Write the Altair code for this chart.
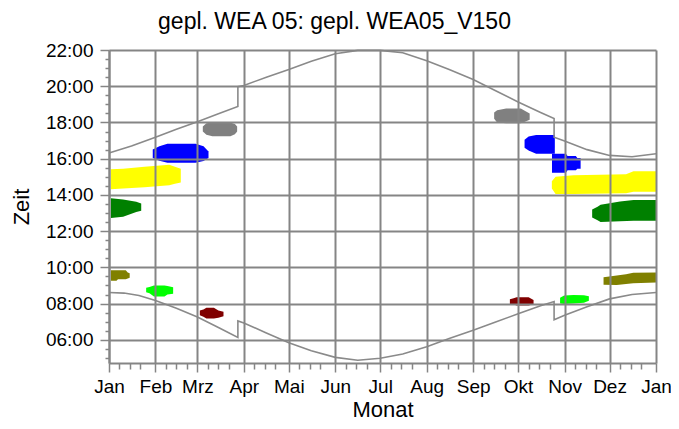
import altair as alt
import pandas as pd

FONT = "Liberation Sans"
GRID = "#858585"
SUNLINE = "#8a8a8a"

# --- axis categories -------------------------------------------------------
month_names = ["Jan", "Feb", "Mrz", "Apr", "Mai", "Jun", "Jul", "Aug", "Sep", "Okt", "Nov", "Dez", "Jan"]
month_starts = [0, 31, 59, 90, 120, 151, 181, 212, 243, 273, 304, 334, 365]
hour_labels = [6, 8, 10, 12, 14, 16, 18, 20, 22]

# --- astronomical limits (day of year, hour of day) ------------------------
sunrise_day = [0, 10, 20, 31, 45, 59, 73, 86, 86, 90, 105, 120, 135, 151, 166, 181, 196,
               212, 227, 243, 258, 273, 288, 297, 297, 304, 319, 334, 349, 365]
sunrise_time = [8.61, 8.58, 8.45, 8.17, 7.74, 7.26, 6.68, 6.13, 7.04, 6.93, 6.38, 5.84, 5.40,
                5.03, 4.87, 4.98, 5.22, 5.62, 6.07, 6.53, 6.98, 7.44, 7.88, 8.11, 7.11, 7.35,
                7.82, 8.26, 8.50, 8.61]
sunset_day = [0, 15, 31, 45, 59, 73, 86, 86, 90, 105, 120, 135, 151, 166, 181, 196,
              212, 227, 243, 258, 273, 288, 297, 297, 304, 319, 334, 349, 365]
sunset_time = [16.31, 16.70, 17.19, 17.62, 18.04, 18.48, 18.88, 19.97, 20.04, 20.50, 20.92,
               21.38, 21.79, 21.98, 21.98, 21.85, 21.41, 20.92, 20.37, 19.75, 19.13, 18.55,
               18.22, 17.19, 16.97, 16.50, 16.18, 16.11, 16.27]

# --- shadow periods per receptor (day, start hour, end hour) ---------------
receptors = ["IO A", "IO B", "IO C", "IO D", "IO E", "IO F", "IO G"]
receptor_colors = ["#808080", "#0000ff", "#ffff00", "#008000", "#808000", "#00ff00", "#800000"]

grey_mar_day = [62.6, 65, 69, 81, 84, 85.5]
grey_mar_lo = [17.50, 17.32, 17.24, 17.24, 17.35, 17.50]
grey_mar_hi = [17.78, 17.95, 18.00, 18.00, 17.92, 17.78]
grey_oct_day = [257, 259, 265, 274.8, 278, 280.7]
grey_oct_lo = [18.20, 18.00, 17.95, 17.95, 18.05, 18.15]
grey_oct_hi = [18.55, 18.68, 18.77, 18.77, 18.62, 18.50]

blue_feb_day = [29.2, 33.6, 39, 57.7, 63.1, 66.4]
blue_feb_lo = [16.04, 15.88, 15.77, 15.77, 15.87, 16.04]
blue_feb_hi = [16.51, 16.68, 16.82, 16.82, 16.69, 16.40]
blue_oct_day = [277.3, 280, 285, 297.5]
blue_oct_lo = [16.60, 16.45, 16.27, 16.27]
blue_oct_hi = [17.05, 17.22, 17.31, 17.31]
blue_nov_day = [295.6, 304.9, 306, 311.5, 312.5, 314.7]
blue_nov_lo = [15.23, 15.23, 15.36, 15.36, 15.45, 15.45]
blue_nov_hi = [16.27, 16.27, 16.15, 16.15, 16.04, 16.04]

yellow_jan_day = [1.3, 9.4, 23.7, 40.2, 44, 47.9]
yellow_jan_lo = [14.31, 14.35, 14.42, 14.54, 14.62, 14.69]
yellow_jan_hi = [15.42, 15.45, 15.55, 15.67, 15.55, 15.45]
yellow_nov_day = [295.5, 298, 310, 345, 350, 365]
yellow_nov_lo = [14.35, 14.05, 14.05, 14.09, 14.18, 14.18]
yellow_nov_hi = [14.75, 15.00, 15.09, 15.14, 15.31, 15.31]

green_jan_day = [1.3, 9.4, 18.2, 21.5]
green_jan_lo = [12.72, 12.80, 13.05, 13.12]
green_jan_hi = [13.81, 13.74, 13.62, 13.52]
green_dec_day = [322.4, 326, 328, 341, 350, 365]
green_dec_lo = [12.75, 12.60, 12.50, 12.54, 12.58, 12.58]
green_dec_hi = [13.20, 13.35, 13.45, 13.63, 13.72, 13.72]

olive_jan_day = [1.3, 5, 6, 11.2, 12.5, 13.8]
olive_jan_lo = [9.26, 9.26, 9.35, 9.35, 9.39, 9.42]
olive_jan_hi = [9.84, 9.84, 9.84, 9.84, 9.72, 9.68]
olive_dec_day = [330, 338.8, 345, 349.8, 365]
olive_dec_lo = [9.04, 9.02, 9.08, 9.12, 9.17]
olive_dec_hi = [9.45, 9.55, 9.62, 9.70, 9.72]

lime_feb_day = [24.8, 27, 30, 37, 39, 42.8]
lime_feb_lo = [8.62, 8.57, 8.39, 8.39, 8.50, 8.55]
lime_feb_hi = [8.88, 8.92, 9.00, 9.00, 8.97, 8.90]
lime_nov_day = [301, 303.7, 310, 316.9, 320.2]
lime_nov_lo = [8.00, 7.98, 8.00, 8.05, 8.15]
lime_nov_hi = [8.32, 8.45, 8.48, 8.46, 8.40]

maroon_mar_day = [60.6, 63, 65, 70, 73, 76.4]
maroon_mar_lo = [7.35, 7.28, 7.17, 7.17, 7.22, 7.30]
maroon_mar_hi = [7.62, 7.68, 7.77, 7.77, 7.62, 7.55]
maroon_oct_day = [267.5, 270, 272, 280, 283.3]
maroon_oct_lo = [7.98, 7.95, 7.90, 7.90, 7.97]
maroon_oct_hi = [8.24, 8.30, 8.35, 8.35, 8.20]

segments = [
    ("IO A", "a1", grey_mar_day, grey_mar_lo, grey_mar_hi),
    ("IO A", "a2", grey_oct_day, grey_oct_lo, grey_oct_hi),
    ("IO B", "b1", blue_feb_day, blue_feb_lo, blue_feb_hi),
    ("IO B", "b2", blue_oct_day, blue_oct_lo, blue_oct_hi),
    ("IO B", "b3", blue_nov_day, blue_nov_lo, blue_nov_hi),
    ("IO C", "c1", yellow_jan_day, yellow_jan_lo, yellow_jan_hi),
    ("IO C", "c2", yellow_nov_day, yellow_nov_lo, yellow_nov_hi),
    ("IO D", "d1", green_jan_day, green_jan_lo, green_jan_hi),
    ("IO D", "d2", green_dec_day, green_dec_lo, green_dec_hi),
    ("IO E", "e1", olive_jan_day, olive_jan_lo, olive_jan_hi),
    ("IO E", "e2", olive_dec_day, olive_dec_lo, olive_dec_hi),
    ("IO F", "f1", lime_feb_day, lime_feb_lo, lime_feb_hi),
    ("IO F", "f2", lime_nov_day, lime_nov_lo, lime_nov_hi),
    ("IO G", "g1", maroon_mar_day, maroon_mar_lo, maroon_mar_hi),
    ("IO G", "g2", maroon_oct_day, maroon_oct_lo, maroon_oct_hi),
]

rows = []
for rec, seg, d, lo, hi in segments:
    for dd, l, h in zip(d, lo, hi):
        rows.append({"receptor": rec, "seg": seg, "day": dd, "lo": l, "hi": h})
blobs = pd.DataFrame(rows)

sun_rows = []
for i, (d, t) in enumerate(zip(sunrise_day, sunrise_time)):
    sun_rows.append({"line": "rise", "i": i, "day": d, "t": t})
for i, (d, t) in enumerate(zip(sunset_day, sunset_time)):
    sun_rows.append({"line": "set", "i": i, "day": d, "t": t})
sun = pd.DataFrame(sun_rows)

# --- axes ------------------------------------------------------------------
minor_days = []
for k in range(12):
    for w in (7, 14, 21):
        minor_days.append(month_starts[k] + w)
x_values = sorted(month_starts + minor_days)
ms = "[" + ",".join(str(m) for m in month_starts) + "]"
mn = "[" + ",".join("'" + n + "'" for n in month_names) + "]"
x_major = f"indexof({ms}, datum.value) >= 0"
x_label = f"indexof({ms}, datum.value) >= 0 ? {mn}[indexof({ms}, datum.value)] : ''"

y_values = [5.0 + 0.5 * k for k in range(35)]
y_major = "datum.value % 2 == 0 && datum.value >= 6"
y_label = f"({y_major}) ? (datum.value < 10 ? '0' : '') + datum.value + ':00' : ''"

common_axis = dict(
    gridColor=GRID, gridWidth=2, domainColor=GRID, domainWidth=2,
    tickColor=GRID, tickWidth=1.5, labelFont=FONT, labelFontSize=19,
    labelColor="black", labelOverlap=False, labelFlush=False, labelBound=False,
    titleFont=FONT, titleFontSize=22, titleFontWeight="normal", titleColor="black",
    zindex=1,
)

x_axis = alt.Axis(
    values=x_values, labelExpr=x_label, title="Monat", orient="bottom",
    gridOpacity={"condition": {"test": x_major, "value": 1}, "value": 0},
    tickSize={"condition": {"test": x_major, "value": 9}, "value": 6},
    labelPadding=5, titlePadding=3, **common_axis,
)
y_axis = alt.Axis(
    values=y_values, labelExpr=y_label, title="Zeit", orient="left",
    gridOpacity={"condition": {"test": y_major, "value": 1}, "value": 0},
    tickSize={"condition": {"test": y_major, "value": 9}, "value": 4},
    labelPadding=7, titlePadding=12, **common_axis,
)

x_scale = alt.Scale(domain=[0, 365], nice=False, zero=False)
y_scale = alt.Scale(domain=[4.72, 22.0], nice=False, zero=False)

areas = alt.Chart(blobs).mark_area(opacity=1, interpolate="linear").encode(
    x=alt.X("day:Q", scale=x_scale, axis=x_axis),
    y=alt.Y("lo:Q", scale=y_scale, axis=y_axis),
    y2="hi:Q",
    color=alt.Color("receptor:N", scale=alt.Scale(domain=receptors, range=receptor_colors), legend=None),
    detail="seg:N",
)

lines = alt.Chart(sun).mark_line(color=SUNLINE, strokeWidth=1.6).encode(
    x=alt.X("day:Q", scale=x_scale, axis=x_axis),
    y=alt.Y("t:Q", scale=y_scale, axis=y_axis),
    detail="line:N",
    order="i:Q",
)

chart = alt.layer(areas, lines).properties(
    width=547,
    height=313,
    title=alt.TitleParams(
        "gepl. WEA 05: gepl. WEA05_V150", font=FONT, fontSize=23,
        fontWeight="normal", color="black", anchor="middle", dx=-48, offset=7,
    ),
    autosize=alt.AutoSizeParams(type="none"),
    padding={"left": 101, "top": 42, "right": 15, "bottom": 58},
).configure_view(stroke=None)

chart.save("out.html", embed_options={"renderer": "svg", "actions": False})
